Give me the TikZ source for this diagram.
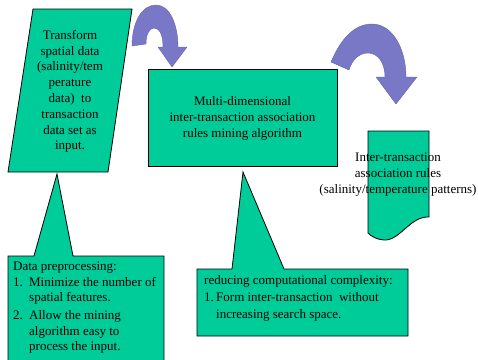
\documentclass[tikz,border=0pt]{standalone}
\usepackage{fontspec}
\setmainfont{Liberation Serif}
\definecolor{boxgreen}{RGB}{0,204,153}
\definecolor{arrowblue}{RGB}{120,120,198}
\definecolor{arrowedge}{RGB}{100,100,176}
\begin{document}
\begin{tikzpicture}[x=1pt,y=-1pt,
  greenshape/.style={fill=boxgreen,draw=black,line width=0.8pt,line join=miter},
  blockarrow/.style={fill=arrowblue,draw=arrowedge,line width=0.4pt,line join=round},
  txt/.style={inner sep=0pt,text=black}]
\useasboundingbox (0,0) rectangle (478,359);
\clip (0,0) rectangle (478,359);
% parallelogram (input)
\draw[greenshape] (33,9) -- (132,9) -- (108,172) -- (8,172) -- cycle;
% algorithm box
\draw[greenshape] (148,69) rectangle (337,166);
% document shape (output)
\draw[greenshape] (368,131) -- (429,131) -- (429,217)
  .. controls (410,216) and (400,241) .. (384,240)
  .. controls (377,239.5) and (372,237) .. (368,233) -- cycle;
% callouts
\draw[greenshape] (8,256) -- (34,256) -- (57,174) -- (73,256) -- (164,256)
  -- (164,366) -- (8,366) -- cycle;
\draw[greenshape] (197,269) -- (232,269) -- (243,172) -- (284,269) -- (408,269)
  -- (408,336) -- (197,336) -- cycle;
% curved block arrows
\draw[blockarrow] (132,46) .. controls (132,22) and (142,5) .. (156,5)
  .. controls (170,5) and (178,25) .. (178,47) -- (187,47) -- (172,67) -- (158,47) -- (163,47)
  .. controls (163,36) and (160,28) .. (154,28)
  .. controls (149,28) and (146,35) .. (146,44) -- cycle;
\draw[blockarrow] (331,62) .. controls (342,36) and (356,24) .. (372,24)
  .. controls (392,24) and (406,48) .. (406,77) -- (417,77) -- (396,104) -- (376,77) -- (385,77)
  .. controls (385,63) and (378,53) .. (368,53)
  .. controls (359,53) and (352,60) .. (349,70) -- cycle;
% texts
\node[txt,align=center,font=\fontsize{13}{15.8}\selectfont] (transform) at (70,91.5)
  {Transform\\spatial data\\(salinity/tem\\perature\\data)~ to\\transaction\\data set as\\input.};
\node[txt,align=center,font=\fontsize{13}{16}\selectfont] (algo) at (242.5,118)
  {Multi-dimensional\\inter-transaction association\\rules mining algorithm};
\node[txt,align=center,font=\fontsize{13}{16}\selectfont] (rules) at (398,175)
  {Inter-transaction\\association rules\\(salinity/temperature patterns)};
\node[txt,align=left,anchor=north west,font=\fontsize{13}{15.3}\selectfont] (prep) at (13,262)
  {Data preprocessing:\\
   \makebox[16pt][l]{1.}Minimize the number of\\
   \hspace*{16pt}spatial features.\\[3pt]
   \makebox[16pt][l]{2.}Allow the mining\\
   \hspace*{16pt}algorithm easy to\\
   \hspace*{16pt}process the input.};
\node[txt,align=left,anchor=north west,font=\fontsize{13}{17}\selectfont] (reduce) at (204,275)
  {reducing computational complexity:\\
   \makebox[12pt][l]{1.}Form inter-transaction~ without\\
   \hspace*{12pt}increasing search space.};
\end{tikzpicture}
\end{document}
